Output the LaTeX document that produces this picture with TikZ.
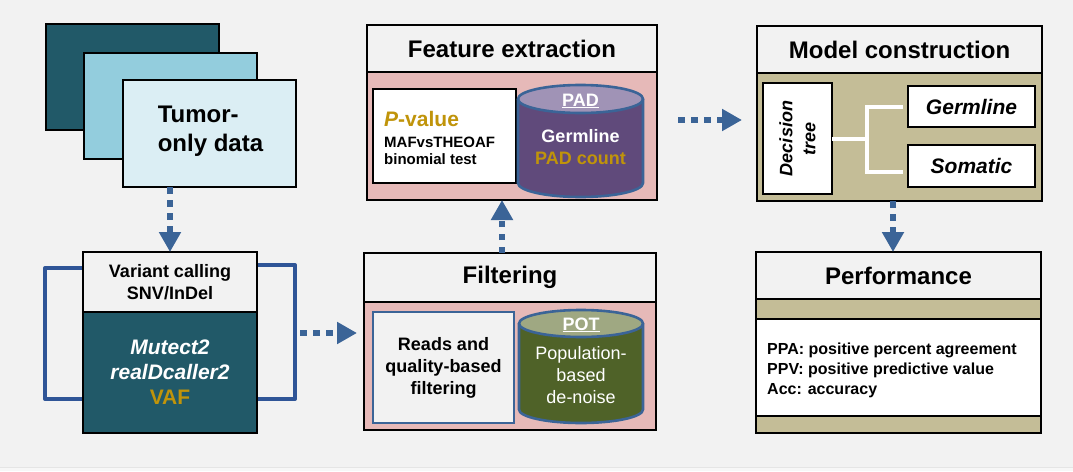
\documentclass[tikz,border=0pt]{standalone}
\usepackage{fontspec}
\setmainfont{Liberation Sans}
\usetikzlibrary{calc, positioning}
\usetikzlibrary{arrows.meta}

\definecolor{bggray}{HTML}{F2F2F2}
\definecolor{stripgray}{HTML}{F7F7F7}
\definecolor{tealdark}{HTML}{215968}
\definecolor{tealmid}{HTML}{93CDDD}
\definecolor{teallight}{HTML}{DBEEF4}
\definecolor{flowblue}{HTML}{3B6497}
\definecolor{linkblue}{HTML}{2F5597}
\definecolor{panelpink}{HTML}{E6B9B8}
\definecolor{paneltan}{HTML}{C4BD97}
\definecolor{padpurple}{HTML}{604A7B}
\definecolor{padtop}{HTML}{A093B6}
\definecolor{potgreen}{HTML}{4F6228}
\definecolor{pottop}{HTML}{9FA882}
\definecolor{valgold}{HTML}{C0940A}

\pgfdeclarelayer{background}
\pgfsetlayers{background,main}

\begin{document}
\begin{tikzpicture}[x=1pt, y=-1pt,
  box/.style={draw=black, line width=2.6pt, inner sep=0pt, outer sep=0pt},
  header/.style={box, fill=bggray, font=\bfseries\fontsize{24}{29}\selectfont},
  flow/.style={draw=flowblue, line width=6.5pt, dash pattern=on 6.5pt off 6.5pt,
    -{Triangle[width=21pt, length=20pt, fill=flowblue]}},
  link/.style={draw=linkblue, line width=4pt, line join=round},
  treeline/.style={draw=white, line width=4pt},
  cylside/.style={draw=flowblue, line width=2.6pt},
  txt/.style={inner sep=0pt, align=center}]

\begin{pgfonlayer}{background}
\path[use as bounding box, fill=bggray] (0,0) rectangle (1073,471);
\fill[stripgray] (0,467) rectangle (1073,471);
\draw[black!10, line width=0.8pt] (0,467) -- (1073,467);
\end{pgfonlayer}

% tumor-only data
\node[box, fill=tealdark, minimum width=173, minimum height=106] (tback) at (132.5,77) {};
\node[box, fill=tealmid, minimum width=173, minimum height=106] (tmid) at (170.5,106) {};
\node[box, fill=teallight, minimum width=173, minimum height=107] (tfront) at (209.5,133.5) {};
\node[txt, align=left, font=\bfseries\fontsize{24}{29}\selectfont] (tumor) at (210.5,131) {Tumor-\\only data};

% variant calling
\node[box, fill=bggray, minimum width=174, minimum height=60, align=center,
  font=\bfseries\fontsize{18}{22}\selectfont] (vtop) at (170,282) {Variant calling\\SNV/InDel};
\node[box, fill=tealdark, minimum width=174, minimum height=121, align=center, text=white,
  font=\bfseries\itshape\fontsize{21}{25}\selectfont] (vdark) at (170,372.5)
  {Mutect2\\realDcaller2\\{\upshape\color{valgold}VAF}};
\begin{pgfonlayer}{background}
\draw[link] (vtop.west |- 0,268) -- ++(-38,0) |- (vdark.west |- 0,399);
\draw[link] (vtop.east |- 0,265) -- ++(38,0) |- (vdark.east |- 0,399);
\end{pgfonlayer}

% filtering
\node[box, fill=panelpink, minimum width=292, minimum height=128] (fbody) at (510,366) {};
\node[header, minimum width=292, minimum height=49] (fhead) at (510,277.5) {Filtering};
\node[draw=flowblue, line width=2.2pt, fill=bggray, minimum width=141, minimum height=111,
  inner sep=0pt, align=center, font=\bfseries\fontsize{18}{22}\selectfont] (reads) at (443.5,367.5)
  {Reads and\\quality-based\\filtering};
\fill[potgreen] (519,323.5) -- (519,409.5)
  arc[start angle=180, end angle=0, x radius=62, y radius=13.5] -- (643,323.5) -- cycle;
\draw[cylside] (519,323.5) -- (519,409.5)
  arc[start angle=180, end angle=0, x radius=62, y radius=13.5] -- (643,323.5);
\filldraw[cylside, fill=pottop] (581,323.5) ellipse[x radius=62, y radius=13.5];
\node[txt, anchor=base, text=white, font=\bfseries\fontsize{18}{22}\selectfont] (potname) at (581,330) {\underline{POT}};
\node[txt, text=white, font=\fontsize{18}{22}\selectfont] (potnote) at (581,375) {Population-\\based\\de-noise};

% feature extraction
\node[box, fill=panelpink, minimum width=290, minimum height=128] (xbody) at (512,136) {};
\node[header, minimum width=290, minimum height=47] (xhead) at (512,48.5) {Feature extraction};
\node[box, line width=2.2pt, fill=white, minimum width=143, minimum height=94] (pbox) at (444.5,136) {};
\node[txt, align=left, anchor=west, font=\bfseries\fontsize{15}{17}\selectfont] (pval) at (384,137.5)
  {{\color{valgold}\fontsize{21}{21}\selectfont\textit{P}-value}\\[4pt]MAFvsTHEOAF\\binomial test};
\fill[padpurple] (518,99) -- (518,183)
  arc[start angle=180, end angle=0, x radius=62.5, y radius=14] -- (643,99) -- cycle;
\draw[cylside] (518,99) -- (518,183)
  arc[start angle=180, end angle=0, x radius=62.5, y radius=14] -- (643,99);
\filldraw[cylside, fill=padtop] (580.5,99) ellipse[x radius=62.5, y radius=14];
\node[txt, anchor=base, text=white, font=\bfseries\fontsize{18}{22}\selectfont] (padname) at (580.5,106) {\underline{PAD}};
\node[txt, text=white, font=\bfseries\fontsize{18}{22}\selectfont] (padnote) at (580.5,147.5)
  {Germline\\{\color{valgold}PAD count}};

% model construction
\node[box, fill=paneltan, minimum width=285, minimum height=128] (mbody) at (899.5,137) {};
\node[header, minimum width=285, minimum height=47] (mhead) at (899.5,49.5) {Model construction};
\node[box, line width=2.2pt, fill=white, rotate=90, minimum width=111, minimum height=69, align=center,
  font=\bfseries\itshape\fontsize{18}{23}\selectfont] (dtree) at (797.5,138.5) {Decision\\tree};
\node[box, fill=white, minimum width=127, minimum height=41,
  font=\bfseries\itshape\fontsize{21}{25}\selectfont] (germ) at (971.5,106.5) {Germline};
\node[box, fill=white, minimum width=127, minimum height=42,
  font=\bfseries\itshape\fontsize{21}{25}\selectfont] (soma) at (971.5,166) {Somatic};
\coordinate (fork) at (867,138.5);
\draw[treeline] (dtree.south) -- (fork);
\draw[treeline] ($(germ.west)+(-5,0.5)$) -| (fork) |- ($(soma.west)+(-5,6)$);

% performance
\node[box, fill=paneltan, minimum width=285, minimum height=134] (pbody) at (898.5,366) {};
\node[box, line width=2.2pt, fill=white, minimum width=285, minimum height=97] (pwhite) at (898.5,367.5) {};
\draw[line width=2.6pt] (pbody.north west) rectangle (pbody.south east);
\node[header, minimum width=285, minimum height=47] (phead) at (898.5,275.5) {Performance};
\node[txt, align=left, anchor=west, font=\bfseries\fontsize{16}{20}\selectfont] (metrics) at (767,370)
  {PPA: positive percent agreement\\PPV: positive predictive value\\Acc: accuracy};

% flow arrows
\coordinate (vout) at (300,333);
\draw[flow] (tfront.south -| vtop.north) -- (vtop.north);
\draw[flow, shorten >=7pt] (vout) -- (fhead.west |- vout);
\draw[flow] (fhead.north -| 502,0) -- (xbody.south -| 502,0);
\draw[flow, shorten <=21pt, shorten >=15pt] (xbody.east |- 0,120) -- (mbody.west |- 0,120);
\draw[flow] (mbody.south -| 893,0) -- (phead.north -| 893,0);
\end{tikzpicture}
\end{document}
